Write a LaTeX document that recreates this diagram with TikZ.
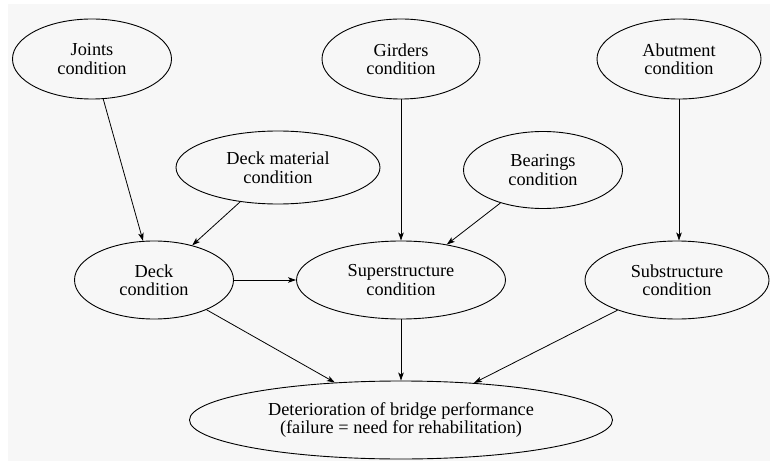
\documentclass[tikz,border=0pt]{standalone}
\usepackage{fontspec}
\setmainfont{Liberation Serif}
\usetikzlibrary{shapes.geometric,arrows.meta}
\definecolor{paper}{HTML}{F7F7F7}
\begin{document}
\begin{tikzpicture}[x=1pt,y=-1pt,
  cond/.style={ellipse,draw,line width=0.9pt,inner sep=0pt,align=center,
    font=\fontsize{18.3}{18.5}\selectfont},
  link/.style={line width=0.8pt,-{Stealth[length=8pt,width=5.5pt,inset=2pt]}}]
\useasboundingbox (0,0) rectangle (770,462);
\fill[paper] (8,4) rectangle (770,461);

% top row: component conditions
\node[cond,minimum width=159pt,minimum height=80pt] (joints)   at (92,59)  {Joints\\condition};
\node[cond,minimum width=158pt,minimum height=80pt] (girders)  at (401,59) {Girders\\condition};
\node[cond,minimum width=164pt,minimum height=80pt] (abutment) at (679,59) {Abutment\\condition};

% middle row
\node[cond,minimum width=204pt,minimum height=73pt] (deckmat)  at (278,167.5) {Deck material\\condition};
\node[cond,minimum width=159pt,minimum height=77pt] (bearings) at (543,170)   {Bearings\\condition};

% element conditions
\node[cond,minimum width=159pt,minimum height=78pt] (deck)  at (154,280) {Deck\\condition};
\node[cond,minimum width=209pt,minimum height=78pt] (super) at (401,280) {Superstructure\\condition};
\node[cond,minimum width=184pt,minimum height=78pt] (sub)   at (677,280) {Substructure\\condition};

% overall outcome
\node[cond,minimum width=423pt,minimum height=78pt] (det) at (401,420)
  {Deterioration of bridge performance\\(failure = need for rehabilitation)};

% influences
\draw[link] (joints) -- (deck);
\draw[link] (deckmat) -- (deck);
\draw[link] (girders) -- (super);
\draw[link] (bearings) -- (super);
\draw[link] (abutment.south) -- (abutment.south |- sub.north);
\draw[link] (deck) -- (super);
\draw[link] (deck) -- (det);
\draw[link] (super) -- (det);
\draw[link] (sub) -- (det);
\end{tikzpicture}
\end{document}
